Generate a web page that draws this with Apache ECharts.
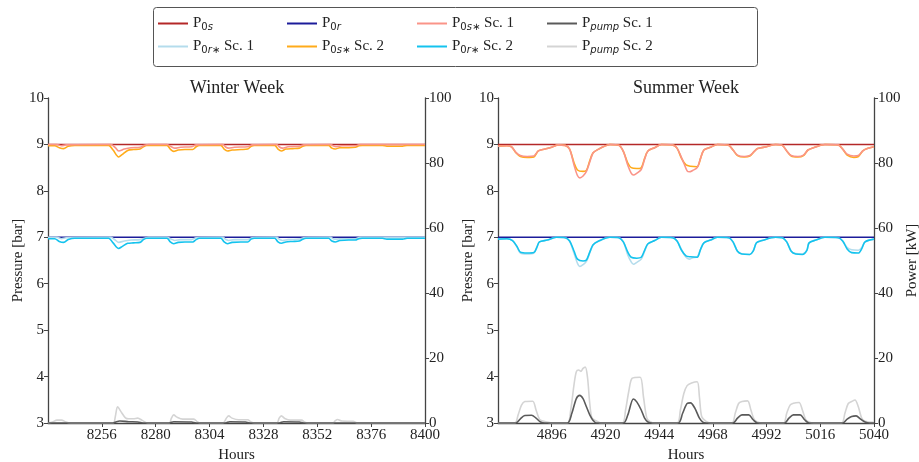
<!DOCTYPE html>
<html>
<head>
<meta charset="utf-8">
<title>Winter / Summer week pressures</title>
<script src="https://cdn.jsdelivr.net/npm/echarts@6/dist/echarts.min.js"></script>
<style>
  html, body { margin: 0; padding: 0; background: #fff; }
  #chart { width: 919px; height: 462px; }
</style>
</head>
<body>
<div id="chart"></div>
<script>
// ---- data (hour, value) ----
var winterTicks = [8256, 8280, 8304, 8328, 8352, 8376, 8400]
var summerTicks = [4896, 4920, 4944, 4968, 4992, 5016, 5040]
var pressureTicks = [3, 4, 5, 6, 7, 8, 9, 10]
var powerTicks = [0, 20, 40, 60, 80, 100]

var winterP0s = [[8232, 9], [8400, 9]]
var winterP0r = [[8232, 7], [8400, 7]]
var summerP0s = [[4872, 9], [5040, 9]]
var summerP0r = [[4872, 7], [5040, 7]]

var winterP0sSc1 = [[8232,9],[8236,9],[8238,8.97],[8240,8.99],[8260,9],[8262,8.93],[8263.5,8.86],[8266,8.9],[8269,8.93],[8273,8.94],[8275,8.98],[8277,9],[8285,9],[8287,8.95],[8288.5,8.92],[8291,8.94],[8296,8.95],[8298,8.99],[8310,9],[8311,8.95],[8312.5,8.92],[8315,8.94],[8321,8.95],[8323,8.99],[8334,9],[8335,8.95],[8336.5,8.92],[8339,8.95],[8344,8.96],[8346,8.99],[8358,9],[8359,8.97],[8360.5,8.95],[8363,8.97],[8369,8.97],[8371,9],[8400,9]]
var winterP0sSc2 = [[8232,8.97],[8235,8.97],[8237,8.93],[8239,8.91],[8241,8.96],[8244,8.98],[8259,8.98],[8261,8.88],[8263.5,8.73],[8265,8.78],[8267.5,8.87],[8270,8.89],[8273,8.9],[8274.5,8.95],[8276,8.98],[8285,8.98],[8286.5,8.9],[8288,8.85],[8290,8.88],[8293,8.89],[8296.5,8.89],[8298,8.95],[8299.5,8.98],[8309,8.98],[8310.5,8.9],[8312,8.86],[8314,8.88],[8318,8.89],[8321,8.9],[8322.5,8.96],[8324,8.98],[8333,8.98],[8334.5,8.9],[8336,8.86],[8338,8.9],[8341,8.91],[8344,8.92],[8345.5,8.96],[8347,8.98],[8357,8.98],[8358.5,8.92],[8360,8.9],[8362,8.93],[8366,8.93],[8369,8.94],[8370.5,8.97],[8372,8.98],[8381,8.98],[8383,8.96],[8390,8.96],[8392,8.98],[8400,8.98]]
var winterP0rSc1 = [[8232,7],[8236,7],[8238,6.97],[8240,6.99],[8260,7],[8262,6.94],[8263.5,6.89],[8266,6.92],[8269,6.94],[8273,6.95],[8275,6.98],[8277,7],[8285,7],[8287,6.96],[8288.5,6.93],[8291,6.95],[8296,6.95],[8298,6.99],[8310,7],[8311,6.96],[8312.5,6.93],[8315,6.95],[8321,6.95],[8323,6.99],[8334,7],[8335,6.96],[8336.5,6.93],[8339,6.95],[8344,6.96],[8346,6.99],[8358,7],[8359,6.97],[8360.5,6.96],[8363,6.97],[8369,6.97],[8371,7],[8400,7]]
var winterP0rSc2 = [[8232,6.97],[8235,6.97],[8237,6.91],[8239,6.89],[8241,6.95],[8244,6.98],[8259,6.98],[8261,6.88],[8263.5,6.76],[8265,6.8],[8267.5,6.87],[8270,6.88],[8273,6.89],[8274.5,6.95],[8276,6.98],[8285,6.98],[8286.5,6.9],[8288,6.86],[8290,6.89],[8293,6.9],[8296.5,6.9],[8298,6.95],[8299.5,6.98],[8309,6.98],[8310.5,6.9],[8312,6.86],[8314,6.89],[8318,6.9],[8321,6.9],[8322.5,6.96],[8324,6.98],[8333,6.98],[8334.5,6.9],[8336,6.87],[8338,6.9],[8341,6.91],[8344,6.92],[8345.5,6.96],[8347,6.98],[8357,6.98],[8358.5,6.92],[8360,6.9],[8362,6.93],[8366,6.94],[8369,6.94],[8370.5,6.97],[8372,6.98],[8381,6.98],[8383,6.96],[8390,6.96],[8392,6.98],[8400,6.98]]
var winterPumpSc1 = [[8232,0],[8261,0],[8262.5,0.4],[8264,0.6],[8268,0.4],[8272,0.3],[8275,0],[8286,0],[8288,0.4],[8296,0.3],[8298,0],[8311,0],[8313,0.4],[8320,0.3],[8322,0],[8335,0],[8337,0.4],[8344,0.3],[8346,0],[8400,0]]
var winterPumpSc2 = [[8232,0],[8234,0.3],[8236,0.9],[8238,0.9],[8240,0.3],[8242,0],[8261,0],[8262,2],[8263,5],[8264.5,3.5],[8266.5,1.6],[8268,1.3],[8270,1.3],[8272,1.5],[8274,0.8],[8276.5,0],[8286,0],[8287,1.5],[8288,2.5],[8289.5,1.8],[8292,1.2],[8297,1.2],[8298.5,0.4],[8300,0],[8310,0],[8311.5,1.5],[8312.5,2.2],[8314,1.5],[8317,1],[8321,1],[8322.5,0.3],[8324,0],[8334,0],[8335,1.5],[8336,2.2],[8337.5,1.4],[8340,0.9],[8345,0.9],[8346.5,0.2],[8348,0],[8359,0],[8360,0.7],[8361,1.1],[8363,0.6],[8368,0.5],[8370,0],[8400,0]]

var summerP0sSc2 = [[4872,8.96],[4876,8.97],[4878,8.95],[4880,8.82],[4882,8.74],[4885,8.72],[4888,8.73],[4890,8.86],[4893,8.9],[4896,8.94],[4899,8.99],[4902,8.98],[4904,8.9],[4906,8.6],[4907.5,8.45],[4910,8.42],[4911.5,8.44],[4913,8.65],[4914.5,8.82],[4917,8.9],[4919,8.95],[4922,9],[4926,8.98],[4928,8.85],[4930,8.6],[4931.5,8.5],[4934,8.48],[4936,8.5],[4937.5,8.7],[4939,8.86],[4942,8.93],[4945,9],[4950,8.99],[4952,8.92],[4954,8.7],[4956,8.56],[4958,8.53],[4961,8.52],[4962.5,8.7],[4964,8.88],[4967,8.94],[4970,9],[4975,8.98],[4977,8.88],[4979,8.76],[4982,8.73],[4984.5,8.75],[4986.5,8.85],[4988,8.91],[4992,8.95],[4996,9],[4999,8.98],[5001,8.86],[5003,8.75],[5006,8.73],[5008.5,8.76],[5010.5,8.88],[5013,8.93],[5018,9],[5024,8.99],[5026,8.9],[5028,8.77],[5031,8.72],[5033,8.74],[5035,8.86],[5037,8.91],[5040,8.95]]
var summerP0sSc1 = [[4872,8.96],[4876,8.97],[4878,8.95],[4880,8.83],[4882,8.76],[4885,8.74],[4888,8.75],[4890,8.86],[4893,8.9],[4896,8.94],[4899,8.99],[4902,8.98],[4904,8.9],[4906,8.55],[4907.5,8.33],[4908.6,8.28],[4910,8.32],[4911.5,8.42],[4913,8.62],[4914.5,8.82],[4917,8.9],[4919,8.95],[4922,9],[4926,8.98],[4928,8.85],[4930,8.55],[4931.5,8.38],[4932.5,8.34],[4934,8.38],[4936,8.46],[4937.5,8.68],[4939,8.86],[4942,8.93],[4945,9],[4950,8.99],[4952,8.92],[4955,8.6],[4956.5,8.43],[4957.5,8.41],[4959,8.44],[4961,8.5],[4962.5,8.7],[4964,8.88],[4967,8.94],[4970,9],[4975,8.98],[4977,8.88],[4979,8.77],[4982,8.74],[4984.5,8.76],[4986.5,8.85],[4988,8.91],[4992,8.95],[4996,9],[4999,8.98],[5001,8.86],[5003,8.76],[5006,8.74],[5008.5,8.77],[5010.5,8.88],[5013,8.93],[5018,9],[5024,8.99],[5026,8.9],[5028,8.79],[5031,8.75],[5033,8.76],[5035,8.86],[5037,8.91],[5040,8.95]]
var summerP0rSc2 = [[4872,6.96],[4876,6.97],[4878.5,6.93],[4880.5,6.8],[4882,6.68],[4885,6.66],[4888,6.67],[4889.5,6.8],[4890.5,6.9],[4894,6.94],[4898,7],[4902,6.99],[4904,6.92],[4906,6.7],[4907.5,6.53],[4910,6.49],[4911.5,6.51],[4913,6.68],[4914.5,6.84],[4917,6.92],[4922,7],[4926,6.99],[4928,6.9],[4930,6.68],[4931.5,6.57],[4934,6.55],[4936,6.57],[4937.5,6.72],[4939,6.86],[4942,6.93],[4945,7],[4950,6.99],[4952,6.92],[4954,6.72],[4956,6.6],[4958,6.58],[4961,6.57],[4962.5,6.74],[4964,6.88],[4967,6.94],[4970,7],[4975,6.99],[4977,6.9],[4979,6.7],[4981,6.64],[4984.5,6.63],[4986,6.7],[4987.5,6.88],[4990,6.93],[4996,7],[4999,6.99],[5001,6.9],[5003,6.7],[5005,6.64],[5008,6.63],[5010,6.72],[5011,6.88],[5014,6.94],[5018,7],[5024,6.99],[5026,6.92],[5028,6.75],[5030,6.67],[5033,6.66],[5034.5,6.75],[5036,6.9],[5040,6.96]]
var summerP0rSc1 = [[4872,6.96],[4876,6.97],[4878.5,6.93],[4880.5,6.79],[4882,6.66],[4885,6.64],[4888,6.66],[4889.5,6.8],[4890.5,6.9],[4894,6.94],[4898,7],[4902,6.99],[4904,6.92],[4906,6.65],[4907.5,6.44],[4908.6,6.37],[4910,6.41],[4911.5,6.48],[4913,6.66],[4914.5,6.84],[4917,6.92],[4922,7],[4926,6.99],[4928,6.9],[4930,6.62],[4931.5,6.47],[4932.5,6.42],[4934,6.46],[4936,6.53],[4937.5,6.7],[4939,6.86],[4942,6.93],[4945,7],[4950,6.99],[4952,6.92],[4955,6.64],[4956.5,6.55],[4957.5,6.53],[4959,6.56],[4961,6.58],[4962.5,6.74],[4964,6.88],[4967,6.94],[4970,7],[4975,6.99],[4977,6.9],[4979,6.7],[4981,6.64],[4984.5,6.63],[4986,6.7],[4987.5,6.88],[4990,6.93],[4996,7],[4999,6.99],[5001,6.9],[5003,6.7],[5005,6.65],[5008,6.64],[5010,6.72],[5011,6.88],[5014,6.94],[5018,7],[5024,6.99],[5026,6.92],[5028,6.78],[5030,6.73],[5033,6.72],[5034.5,6.78],[5036,6.9],[5040,6.96]]
var summerPumpSc1 = [[4872,0],[4880,0],[4882,1.3],[4884,2.3],[4887,2.4],[4889,1.5],[4891,0.3],[4893,0],[4903,0],[4905,3],[4907,7.5],[4908.5,8.5],[4910,7.5],[4911.5,5],[4913,2.5],[4914.5,0.8],[4916,0],[4928,0],[4930,2.5],[4932.5,7.4],[4934,6.5],[4936,4],[4937.5,1.5],[4939,0.3],[4941,0],[4952.5,0],[4954.5,3],[4956.5,6],[4958,6.2],[4960,4.5],[4962,1.5],[4963.5,0.3],[4965,0],[4977,0],[4979,1.5],[4981,2.5],[4984,2.5],[4986,1],[4988,0],[5000,0],[5002,1.5],[5004,2.5],[5007,2.5],[5009,1],[5011,0],[5026,0],[5028,1.2],[5030,2],[5032,2.2],[5034,1.2],[5036,0.3],[5038,0],[5040,0]]
var summerPumpSc2 = [[4872,0],[4879.5,0],[4881,2.5],[4882.5,5.5],[4884,6.6],[4887.5,6.7],[4889,4],[4890.5,1.2],[4892,0.6],[4894,0.3],[4896,0],[4903,0],[4904.5,4],[4906,12],[4907,15.8],[4908,16.3],[4909,15.9],[4910,16.8],[4911,17.2],[4912,14],[4913,6],[4914,1.5],[4916,0.6],[4918,0],[4927.5,0],[4929,4],[4930.5,10],[4932,13.8],[4935.5,14.1],[4937,8],[4938.5,1.5],[4940,0.4],[4942,0],[4952,0],[4953.5,4],[4955,9],[4956.5,11.5],[4958.5,12.3],[4961,12.7],[4962,8],[4963,2],[4965,0.5],[4967,0],[4976.5,0],[4978,3],[4979.5,6],[4981,6.6],[4983.5,6.8],[4985,4],[4986.5,1],[4988,0.3],[4990,0],[4999.5,0],[5001,3],[5002.5,5.5],[5004,6.1],[5006.5,6.3],[5008,4],[5009.5,1],[5011,0.3],[5013,0],[5025.5,0],[5027,3],[5028.5,6],[5030,6.6],[5031.5,7.1],[5033,5],[5034.5,1.5],[5036,0.5],[5040,0.2]]

// legend names -> rich labels (subscripts)
var legendNames = ['P0s', 'P0r', 'P0s* Sc. 1', 'Ppump Sc. 1', 'P0r* Sc. 1', 'P0s* Sc. 2', 'P0r* Sc. 2', 'Ppump Sc. 2']
var legendLabels = {
  'P0s': '{b|P}{z|0}{i|s}',
  'P0r': '{b|P}{z|0}{i|r}',
  'P0s* Sc. 1': '{b|P}{z|0}{i|s∗}{b| Sc. 1}',
  'Ppump Sc. 1': '{b|P}{i|pump}{b| Sc. 1}',
  'P0r* Sc. 1': '{b|P}{z|0}{i|r∗}{b| Sc. 1}',
  'P0s* Sc. 2': '{b|P}{z|0}{i|s∗}{b| Sc. 2}',
  'P0r* Sc. 2': '{b|P}{z|0}{i|r∗}{b| Sc. 2}',
  'Ppump Sc. 2': '{b|P}{i|pump}{b| Sc. 2}'
}
var colors = {
  'P0s': '#b42828',
  'P0r': '#1c1c9a',
  'P0s* Sc. 1': '#fa9488',
  'Ppump Sc. 1': '#5a5a5a',
  'P0r* Sc. 1': '#b4dcec',
  'P0s* Sc. 2': '#ffab1a',
  'P0r* Sc. 2': '#14c3ee',
  'Ppump Sc. 2': '#d4d4d4'
}

var serif = 'Liberation Serif'
var chart = echarts.init(document.getElementById('chart'))

function line (name, data, xi, yi, z) {
  return {
    name: name,
    type: 'line',
    xAxisIndex: xi,
    yAxisIndex: yi,
    data: data,
    showSymbol: false,
    symbol: 'none',
    smooth: 0.3,
    z: z,
    itemStyle: { color: colors[name] },
    lineStyle: { color: colors[name], width: 1.6 },
    emphasis: { disabled: true }
  }
}

function plain (v) { return String(v) }

function xAx (gi, min, max, ticks) {
  return {
    type: 'value', gridIndex: gi, min: min, max: max, interval: 24,
    name: 'Hours', nameLocation: 'middle', nameGap: 23,
    nameTextStyle: { fontFamily: serif, fontSize: 15, color: '#222' },
    axisLine: { show: true, lineStyle: { color: '#444', width: 1.3 } },
    axisTick: { show: true, length: 4, customValues: ticks, lineStyle: { color: '#444' } },
    axisLabel: { customValues: ticks, formatter: plain, fontFamily: serif, fontSize: 15, color: '#222', margin: 5 },
    splitLine: { show: false }
  }
}

function yAx (gi, pos, min, max, interval, ticks, name, gap) {
  return {
    type: 'value', gridIndex: gi, position: pos, min: min, max: max, interval: interval,
    name: name, nameLocation: 'middle', nameGap: gap, nameRotate: 90,
    nameTextStyle: { fontFamily: serif, fontSize: 15, color: '#222' },
    axisLine: { show: true, onZero: false, lineStyle: { color: '#444', width: 1.3 } },
    axisTick: { show: true, length: 4, customValues: ticks, lineStyle: { color: '#444' } },
    axisLabel: { customValues: ticks, formatter: plain, fontFamily: serif, fontSize: 15, color: '#222', margin: 4 },
    splitLine: { show: false }
  }
}

var legendPos = [
  [158, 16], [287, 16], [417, 16], [547, 16],
  [158, 39], [287, 39], [417, 39], [547, 39]
]
var legends = legendNames.map(function (n, i) {
  return {
    data: [n],
    left: legendPos[i][0], top: legendPos[i][1],
    padding: 0, itemWidth: 30, itemHeight: 2, icon: 'rect',
    selectedMode: false,
    formatter: function (nm) { return legendLabels[nm] },
    textStyle: {
      rich: {
        b: { fontFamily: serif, fontSize: 15, color: '#222' },
        z: { fontFamily: 'DejaVu Sans', fontSize: 10, color: '#222', padding: [7, 0, 0, 0] },
        i: { fontFamily: 'DejaVu Sans', fontStyle: 'italic', fontSize: 10, color: '#222', padding: [7, 0, 0, 0] }
      }
    }
  }
})

var series = [
  line('P0s', winterP0s, 0, 0, 2),
  line('P0r', winterP0r, 0, 0, 2),
  line('P0s* Sc. 2', winterP0sSc2, 0, 0, 3),
  line('P0s* Sc. 1', winterP0sSc1, 0, 0, 4),
  line('P0r* Sc. 1', winterP0rSc1, 0, 0, 3),
  line('P0r* Sc. 2', winterP0rSc2, 0, 0, 4),
  line('Ppump Sc. 2', winterPumpSc2, 0, 1, 3),
  line('Ppump Sc. 1', winterPumpSc1, 0, 1, 4),
  line('P0s', summerP0s, 1, 2, 2),
  line('P0r', summerP0r, 1, 2, 2),
  line('P0s* Sc. 2', summerP0sSc2, 1, 2, 3),
  line('P0s* Sc. 1', summerP0sSc1, 1, 2, 4),
  line('P0r* Sc. 1', summerP0rSc1, 1, 2, 3),
  line('P0r* Sc. 2', summerP0rSc2, 1, 2, 4),
  line('Ppump Sc. 2', summerPumpSc2, 1, 3, 3),
  line('Ppump Sc. 1', summerPumpSc1, 1, 3, 4)
]

chart.setOption({
  animation: false,
  backgroundColor: '#fff',
  legend: legends,
  grid: [
    { left: 48, right: 494, top: 98, bottom: 39, outerBoundsMode: 'none' },
    { left: 498, right: 45, top: 98, bottom: 39, outerBoundsMode: 'none' }
  ],
  xAxis: [
    xAx(0, 8232, 8400, winterTicks),
    xAx(1, 4872, 5040, summerTicks)
  ],
  yAxis: [
    yAx(0, 'left', 3, 10, 1, pressureTicks, 'Pressure [bar]', 22),
    yAx(0, 'right', 0, 100, 20, powerTicks, '', 19),
    yAx(1, 'left', 3, 10, 1, pressureTicks, 'Pressure [bar]', 22),
    yAx(1, 'right', 0, 100, 20, powerTicks, 'Power [kW]', 19)
  ],
  graphic: [
    { type: 'rect', shape: { x: 153.5, y: 7.5, width: 604, height: 59, r: 3 },
      style: { fill: 'none', stroke: '#555', lineWidth: 1 } },
    { type: 'text', x: 237, y: 79,
      style: { text: 'Winter Week', fontFamily: serif, fontSize: 18, fill: '#222', textAlign: 'center' } },
    { type: 'text', x: 686, y: 79,
      style: { text: 'Summer Week', fontFamily: serif, fontSize: 18, fill: '#222', textAlign: 'center' } }
  ],
  series: series
})
</script>
</body>
</html>
